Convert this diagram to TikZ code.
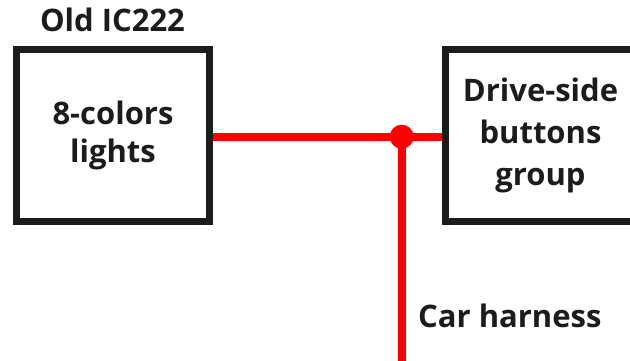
\documentclass[tikz,border=0pt]{standalone}
\usepackage{fontspec}
\setmainfont{Open Sans}
\definecolor{ink}{HTML}{1B1C1B}
\definecolor{wire}{HTML}{FF0000}
\begin{document}
\begin{tikzpicture}[x=1pt,y=-1pt,
  box/.style={draw=ink,line width=7pt,rectangle,inner sep=0pt,
    text=ink,align=center,font=\bfseries\fontsize{31}{#1}\selectfont},
  box/.default=40,
  lbl/.style={text=ink,inner sep=0pt,font=\bfseries\fontsize{31}{40}\selectfont},
  wireline/.style={draw=wire,line width=8pt}]
  \useasboundingbox[fill=white] (0,0) rectangle (630,361);
  \begin{scope}
  \clip (0,0) rectangle (630,361);
  % component boxes
  \node[box=38,minimum width=193pt,minimum height=172pt] (lbox) at (113,135.5) {8-colors\\lights};
  \node[box=42,minimum width=190pt,minimum height=172pt] (rbox) at (540.5,135.5) {Drive-side\\buttons\\group};
  % titles
  \node[lbl,anchor=base] (ttl) at (112.5,31.5) {Old IC222};
  \node[lbl,anchor=base west] (harn) at (418,327) {Car harness};
  % wiring
  \coordinate (j) at (401.7,136.7);
  \coordinate (bot) at (401.7,361);
  \draw[wireline] (lbox.east |- j) -- (rbox.west |- j);
  \draw[wireline] (j) -- (bot);
  \fill[wire] (j) circle (12pt);
  \end{scope}
\end{tikzpicture}
\end{document}
